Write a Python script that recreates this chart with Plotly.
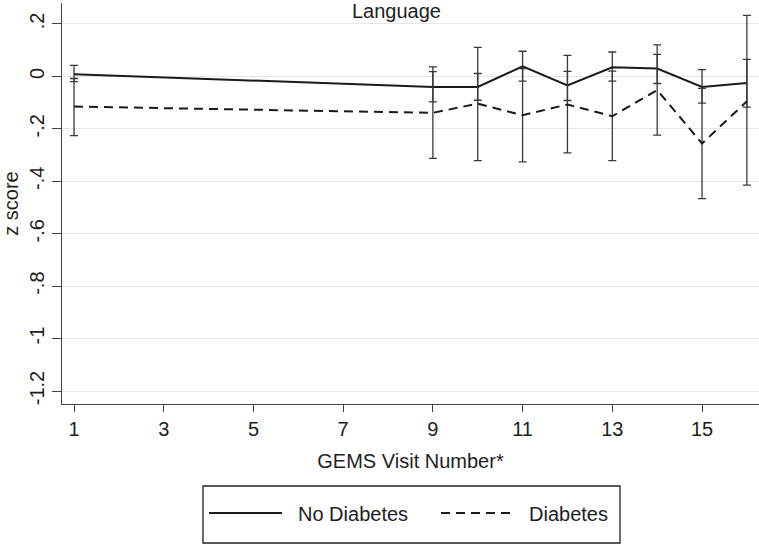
import plotly.graph_objects as go

visits = [1, 9, 10, 11, 12, 13, 14, 15, 16]

no_diab = [0.008, -0.040, -0.040, 0.038, -0.034, 0.035, 0.030, -0.040, -0.025]
no_diab_hi = [0.042, 0.018, 0.011, 0.096, 0.019, 0.093, 0.084, 0.026, 0.065]
no_diab_lo = [-0.020, -0.097, -0.091, -0.018, -0.092, -0.018, -0.027, -0.102, -0.117]

diab = [-0.115, -0.139, -0.104, -0.148, -0.107, -0.152, -0.052, -0.256, -0.095]
diab_hi = [-0.008, 0.036, 0.111, 0.030, 0.080, 0.020, 0.120, -0.046, 0.233]
diab_lo = [-0.226, -0.313, -0.321, -0.326, -0.292, -0.321, -0.224, -0.466, -0.415]

series_names = ["No Diabetes", "Diabetes"]

x_ticks = [1, 3, 5, 7, 9, 11, 13, 15]
y_tickvals = [0.2, 0, -0.2, -0.4, -0.6, -0.8, -1.0, -1.2]
y_ticktext = [".2", "0", "-.2", "-.4", "-.6", "-.8", "-1", "-1.2"]

FONT = "Liberation Sans, Arial, sans-serif"
TXT = "#1e1e1e"
LINE = "#1a1a1a"
ERR = "#3a3a3a"
AX = "#444"
FS = 20

FIG_W, FIG_H = 759, 552
# plot area in page pixels
L, R, T, B = 62, 759, 3, 404
W, H = R - L, B - T


def px(xp):
    return (xp - L) / W


def py(yp):
    return (B - yp) / H


def err(vals, hi, lo):
    return dict(
        type="data", symmetric=False,
        array=[h - v for h, v in zip(hi, vals)],
        arrayminus=[v - l for v, l in zip(vals, lo)],
        color=ERR, thickness=1.3, width=4,
    )


fig = go.Figure()
fig.add_trace(go.Scatter(
    x=visits, y=no_diab, mode="lines", name=series_names[0],
    line=dict(color=LINE, width=2),
    error_y=err(no_diab, no_diab_hi, no_diab_lo),
    showlegend=False,
))
fig.add_trace(go.Scatter(
    x=visits, y=diab, mode="lines", name=series_names[1],
    line=dict(color=LINE, width=2, dash="9px,6px"),
    error_y=err(diab, diab_hi, diab_lo),
    showlegend=False,
))

shapes = [
    dict(type="rect", xref="paper", yref="paper",
         x0=px(203), x1=px(620), y0=py(486), y1=py(543),
         line=dict(color="#222", width=1.3), fillcolor="rgba(0,0,0,0)"),
    dict(type="line", xref="paper", yref="paper",
         x0=px(209), x1=px(282), y0=py(513), y1=py(513),
         line=dict(color=LINE, width=2)),
    dict(type="line", xref="paper", yref="paper",
         x0=px(441), x1=px(515), y0=py(513), y1=py(513),
         line=dict(color=LINE, width=2, dash="9px,6px")),
]

annotations = [
    dict(text="Language", xref="paper", yref="paper",
         x=px(396), y=py(11), xanchor="center", yanchor="middle",
         showarrow=False, font=dict(size=FS, color=TXT)),
    dict(text=series_names[0], xref="paper", yref="paper",
         x=px(296), y=py(514), xanchor="left", yanchor="middle",
         showarrow=False, font=dict(size=FS, color=TXT)),
    dict(text=series_names[1], xref="paper", yref="paper",
         x=px(527), y=py(514), xanchor="left", yanchor="middle",
         showarrow=False, font=dict(size=FS, color=TXT)),
]

fig.update_layout(
    width=FIG_W, height=FIG_H,
    margin=dict(l=L, r=FIG_W - R, t=T, b=FIG_H - B, autoexpand=False),
    paper_bgcolor="white", plot_bgcolor="white",
    font=dict(family=FONT, size=FS, color=TXT),
    showlegend=False,
    xaxis=dict(
        range=[0.7325, 16.27], automargin=False,
        tickvals=x_ticks, ticks="outside", ticklen=7, tickcolor=AX,
        showline=True, linecolor=AX, linewidth=1.3,
        showgrid=False, zeroline=False,
        title=dict(text="GEMS Visit Number*", standoff=14,
                   font=dict(size=FS, color=TXT)),
        tickfont=dict(size=FS, color=TXT),
    ),
    yaxis=dict(
        range=[-1.2496, 0.28], automargin=False,
        tickvals=y_tickvals, ticktext=y_ticktext, tickangle=-90,
        ticks="outside", ticklen=9, tickcolor=AX,
        showline=True, linecolor=AX, linewidth=1.3,
        showgrid=True, gridcolor="#e6e6e6", gridwidth=1,
        zeroline=False,
        title=dict(text="z score", standoff=11,
                   font=dict(size=FS, color=TXT)),
        tickfont=dict(size=FS, color=TXT),
    ),
    shapes=shapes,
    annotations=annotations,
)

fig.write_html(
    "out.html",
    config={"displayModeBar": False},
    post_script="document.body.style.margin='0';document.body.style.padding='0';",
)
